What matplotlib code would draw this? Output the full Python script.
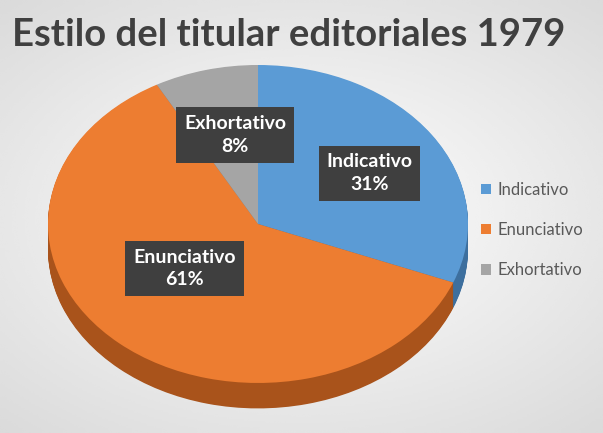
import matplotlib
matplotlib.use('Agg')
import matplotlib.pyplot as plt
from matplotlib.patches import Patch
import numpy as np

# data
categories = ['Indicativo', 'Enunciativo', 'Exhortativo']
values = [31, 61, 8]
top_colors = ['#5B9BD5', '#ED7D31', '#A5A5A5']
side_colors = ['#3D6F9E', '#A9531B', '#767676']
label_pos = [(0.53, 0.32), (-0.35, -0.28), (-0.11, 0.56)]

W, H = 603, 433
fig = plt.figure(figsize=(W / 100, H / 100), dpi=100)

# soft grey radial background
bg = fig.add_axes([0, 0, 1, 1], zorder=-10)
yy, xx = np.mgrid[-1:1:200j, -1:1:280j]
r = np.sqrt((xx * 0.8) ** 2 + (yy * 0.9) ** 2)
bg.imshow(1 - 0.12 * np.clip(r, 0, 1.3), cmap='gray', vmin=0, vmax=1,
          aspect='auto', extent=[0, 1, 0, 1], interpolation='bicubic')
bg.set_axis_off()

# pie axes: squashed so the circle becomes an ellipse
ax = fig.add_axes([48 / W, 1 - 410 / H, 420 / W, 345 / H])
depth = 0.16
for dy in np.linspace(depth, 0.005, 30):
    ax.pie(values, colors=side_colors, startangle=90, counterclock=False,
           center=(0, -dy), wedgeprops=dict(linewidth=0))
ax.pie(values, colors=top_colors, startangle=90, counterclock=False,
       wedgeprops=dict(linewidth=0))
ax.set_aspect('auto')
ax.set_xlim(-1.0, 1.0)
ax.set_ylim(-1.0 - depth - 0.01, 1.0)
ax.set_axis_off()

for cat, val, (x, y) in zip(categories, values, label_pos):
    ax.text(x, y, f'{cat}\n{val}%', ha='center', va='center', color='white',
            fontsize=14, fontweight='bold', family='Lato', linespacing=1.4,
            bbox=dict(boxstyle='square,pad=0.4', fc='#3F3F3F', ec='none'))

fig.text(0.02, 1 - 35 / H, 'Estilo del titular editoriales 1979', ha='left',
         va='center', fontsize=27.5, fontweight='bold', family='Lato',
         color='#404040')

handles = [Patch(facecolor=c, edgecolor='none') for c in top_colors]
leg = fig.legend(handles, categories, loc='center left',
                 bbox_to_anchor=(466 / W, 1 - 230 / H), frameon=False,
                 fontsize=12, labelspacing=1.45, handlelength=0.6,
                 handleheight=0.6, handletextpad=0.4)
for t in leg.get_texts():
    t.set_color('#595959')
    t.set_family('Lato')

fig.savefig('out.png', dpi=100)
